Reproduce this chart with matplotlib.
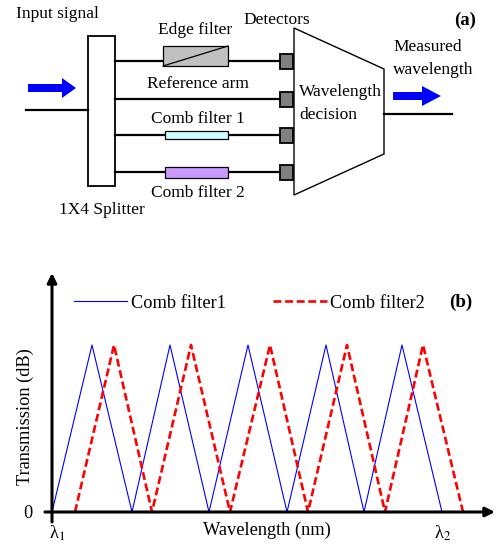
import matplotlib
matplotlib.use("Agg")
import matplotlib.pyplot as plt
from matplotlib import patches

plt.rcParams['font.family'] = ['Liberation Serif', 'DejaVu Serif']
plt.rcParams['mathtext.fontset'] = 'stix'

# comb filter responses: wavelength position (arbitrary units) and normalised transmission
blue_x = [0, 40, 80, 118, 157, 196, 235, 274, 312, 350, 390]
blue_y = [0, 1, 0, 1, 0, 1, 0, 1, 0, 1, 0]
red_x = [23, 62, 100, 139, 178, 218, 256, 295, 333, 371, 411]
red_y = [0, 1, 0, 1, 0, 1, 0, 1, 0, 1, 0]
series_labels = ["Comb filter1", "Comb filter2"]
tick_pos = [5, 391]
tick_labels = ['λ$_1$', 'λ$_2$']

FS = 12.5
FB = 13.2

fig = plt.figure(figsize=(4.97, 5.46), dpi=100)

# ---- (a) block diagram, drawn in pixel coordinates ----
ax_t = fig.add_axes([0, 0, 1, 1])
ax_t.set_xlim(0, 497)
ax_t.set_ylim(546, 0)
ax_t.axis('off')

ax_t.text(16, 14, "Input signal", fontsize=FS, va='center')
ax_t.add_patch(patches.FancyArrow(28, 88, 48, 0, width=8, head_width=20,
                                  head_length=14, length_includes_head=True,
                                  color='blue', lw=0))
ax_t.plot([26, 88], [110, 110], color='black', lw=1.6)
ax_t.add_patch(patches.Rectangle((88, 36), 27, 150, fill=False, lw=1.3,
                                 edgecolor='black'))
ax_t.text(102, 210, "1X4 Splitter", fontsize=FS, ha='center', va='center')

arm_y = [61, 99, 135, 172]
for y in arm_y:
    ax_t.plot([115, 281], [y, y], color='black', lw=1.6, zorder=1)
    ax_t.add_patch(patches.Rectangle((280, y - 7.5), 13, 15, facecolor='#808080',
                                     edgecolor='black', lw=1.3, zorder=3))

# edge filter
ax_t.add_patch(patches.Rectangle((163, 46), 65, 20, facecolor='#c0c0c0',
                                 edgecolor='black', lw=0.9, zorder=2))
ax_t.plot([163, 228], [66, 46], color='black', lw=0.9, zorder=3)
ax_t.text(195, 30, "Edge filter", fontsize=FS, ha='center', va='center')
ax_t.text(198, 84, "Reference arm", fontsize=FS, ha='center', va='center')
ax_t.text(198, 119, "Comb filter 1", fontsize=FS, ha='center', va='center')
ax_t.add_patch(patches.Rectangle((165, 131), 63, 8, facecolor='#ccffff',
                                 edgecolor='black', lw=0.9, zorder=2))
ax_t.add_patch(patches.Rectangle((165, 167), 63, 11, facecolor='#cc99ff',
                                 edgecolor='black', lw=0.9, zorder=2))
ax_t.text(198, 193, "Comb filter 2", fontsize=FS, ha='center', va='center')
ax_t.text(277, 20, "Detectors", fontsize=FS, ha='center', va='center')

# wavelength decision block
ax_t.add_patch(patches.Polygon([(294, 28), (384, 69), (384, 154), (294, 195)],
                               closed=True, fill=False, edgecolor='black', lw=1.0))
ax_t.text(299, 92, "Wavelength", fontsize=FS, va='center')
ax_t.text(299, 115, "decision", fontsize=FS, va='center')
ax_t.plot([384, 452], [114, 114], color='black', lw=1.6)
ax_t.add_patch(patches.FancyArrow(393, 96, 48, 0, width=8, head_width=20,
                                  head_length=19, length_includes_head=True,
                                  color='blue', lw=0))
ax_t.text(393, 47, "Measured", fontsize=FS, va='center')
ax_t.text(393, 70, "wavelength", fontsize=FS, va='center')
ax_t.text(476, 20, "(a)", fontsize=FS + 1, fontweight='bold', ha='right', va='center')

# ---- (b) comb filter transmission chart ----
x0, x1, y0, y1 = 52, 495, 512, 273
ax = fig.add_axes([x0 / 497, (546 - y0) / 546, (x1 - x0) / 497, (y0 - y1) / 546])
ax.patch.set_alpha(0)
ax.set_xlim(0, x1 - x0)
ax.set_ylim(0, (y0 - y1) / (y0 - 345))
for s in ax.spines.values():
    s.set_visible(False)

ax.plot(blue_x, blue_y, color='blue', lw=0.8, label=series_labels[0], clip_on=False)
ax.plot(red_x, red_y, color='red', lw=1.9, ls=(0, (3, 1.4)), label=series_labels[1],
        clip_on=False)

arrow = dict(arrowstyle='-|>', lw=2.2, color='black', mutation_scale=14,
             shrinkA=0, shrinkB=0)
ax.annotate("", xy=(1.0, 0), xytext=(-7 / 443, 0), xycoords='axes fraction',
            textcoords='axes fraction', arrowprops=arrow)
ax.annotate("", xy=(0, 1.0), xytext=(0, -10 / 239), xycoords='axes fraction',
            textcoords='axes fraction', arrowprops=arrow)

ax.set_yticks([0])
ax.set_yticklabels(["0"], fontsize=FB)
ax.set_xticks(tick_pos)
ax.set_xticklabels(tick_labels, fontsize=FB)
ax.tick_params(axis='y', length=0, pad=14)
ax.tick_params(axis='x', length=0, pad=8)

ax.text((267 - x0) / 443, (y0 - 530) / 239, "Wavelength (nm)", fontsize=FB,
        ha='center', va='center', transform=ax.transAxes)
ax.text((25 - x0) / 443, (y0 - 417) / 239, "Transmission (dB)", fontsize=FB,
        rotation=90, ha='center', va='center', transform=ax.transAxes)

ax.legend(ncol=2, frameon=False, loc='center left', fontsize=FB,
          bbox_to_anchor=((74 - x0) / 443, (y0 - 303) / 239), borderpad=0,
          borderaxespad=0, handlelength=2.9, handletextpad=0.2, columnspacing=2.6)
ax.text((461 - x0) / 443, (y0 - 302) / 239, "(b)", fontsize=FB + 0.5, fontweight='bold',
        ha='center', va='center', transform=ax.transAxes)

fig.savefig("out.png", dpi=100)
